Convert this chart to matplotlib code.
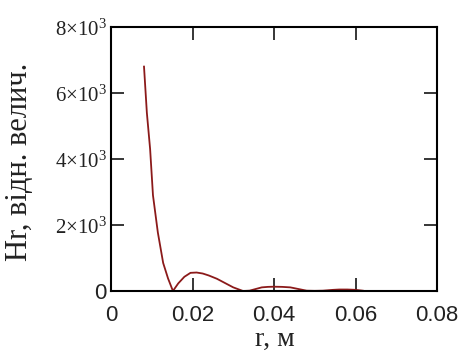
import matplotlib
matplotlib.use("Agg")
import matplotlib.pyplot as plt

plt.rcParams['mathtext.fontset'] = 'custom'
plt.rcParams['mathtext.rm'] = 'Liberation Serif'
plt.rcParams['mathtext.it'] = 'Liberation Serif'

# Data
r = [0.0081, 0.0088, 0.0096, 0.0103, 0.0115, 0.0128, 0.0140, 0.0152, 0.0165,
     0.0180, 0.0195, 0.0210, 0.0225, 0.0240, 0.0260, 0.0280, 0.0300, 0.0324,
     0.0340, 0.0355, 0.0370, 0.0385, 0.0400, 0.0420, 0.0440, 0.0460, 0.0480,
     0.0500, 0.0520, 0.0545, 0.0560, 0.0580, 0.0600, 0.0618]
hr = [6800, 5400, 4300, 2900, 1770, 850, 380, 0, 230,
      430, 550, 560, 530, 470, 370, 240, 110, 0,
      10, 60, 110, 125, 130, 125, 110, 60, 10,
      5, 10, 35, 45, 45, 35, 10]

xticks = [0, 0.02, 0.04, 0.06, 0.08]
xtick_labels = ['0', '0.02', '0.04', '0.06', '0.08']
yticks = [0, 2000, 4000, 6000, 8000]
ytick_labels = ['0', r'$\mathrm{2{\times}10^{3}}$', r'$\mathrm{4{\times}10^{3}}$',
                r'$\mathrm{6{\times}10^{3}}$', r'$\mathrm{8{\times}10^{3}}$']
xlabel = 'r, м'
ylabel = 'Hr, відн. велич.'

fig = plt.figure(figsize=(4.66, 3.51), dpi=100)
ax = fig.add_axes([111/466, 1-291/351, (437-111)/466, (291-27)/351])

ax.plot(r, hr, color='#8b1a1a', lw=1.3, solid_joinstyle='miter')

ax.set_xlim(0, 0.08)
ax.set_ylim(0, 8000)

for s in ax.spines.values():
    s.set_linewidth(1.5)
    s.set_color('black')

ax.set_xticks(xticks)
ax.set_xticklabels(xtick_labels, family='Liberation Sans', fontsize=16, color='#222222')
ax.set_yticks(yticks)
ax.set_yticklabels(ytick_labels, fontsize=15, color='#222222')
ax.get_yticklabels()[0].set_fontfamily('Liberation Sans')
ax.get_yticklabels()[0].set_fontsize(16)

ax.tick_params(axis='both', which='major', direction='in', length=9.5, width=1.1,
               top=True, right=True)
ax.tick_params(axis='x', pad=10)
ax.tick_params(axis='y', pad=3)
# hide tick marks at the box edges
for t in ax.xaxis.get_major_ticks():
    if t.get_loc() in (0, 0.08):
        t.tick1line.set_visible(False)
        t.tick2line.set_visible(False)
for t in ax.yaxis.get_major_ticks():
    if t.get_loc() in (0, 8000):
        t.tick1line.set_visible(False)
        t.tick2line.set_visible(False)

fig.text(275/466, 1-339/351, xlabel, family='Liberation Serif', fontsize=20,
         ha='center', va='center', color='#222222')
fig.text(20/466, 1-162/351, ylabel, family='Liberation Serif', fontsize=22,
         ha='center', va='center', rotation=90, color='#222222')

fig.savefig('out.png', dpi=100)
